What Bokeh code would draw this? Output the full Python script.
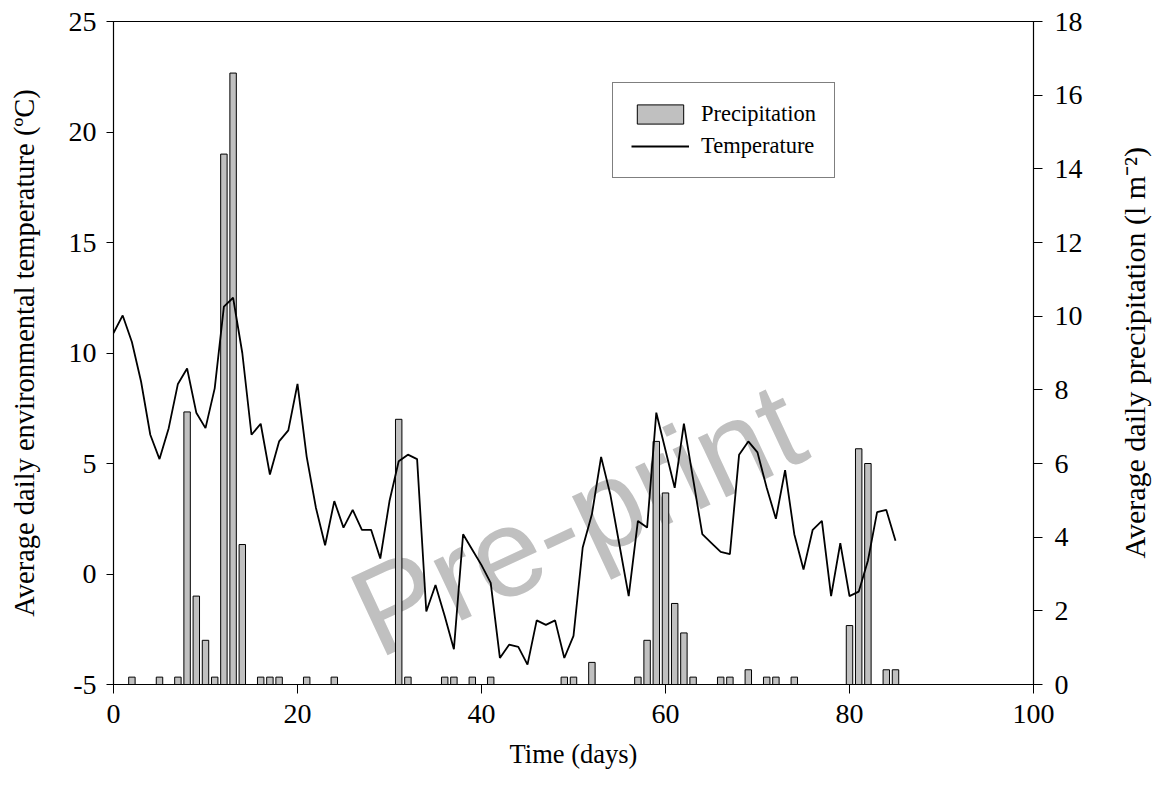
from bokeh.plotting import figure
from bokeh.layouts import row
from bokeh.models import (Range1d, LinearAxis, FixedTicker, Legend, LegendItem,
                          Label, ColumnDataSource)
from bokeh.embed import file_html
from bokeh.resources import INLINE

# ---- data ----
temp_days = list(range(0, 86))
temperature = [10.9, 11.7, 10.5, 8.7, 6.3, 5.2, 6.6, 8.6, 9.3, 7.3,
               6.6, 8.4, 12.1, 12.5, 10.0, 6.3, 6.8, 4.5, 6.0, 6.5,
               8.6, 5.3, 3.0, 1.3, 3.3, 2.1, 2.9, 2.0, 2.0, 0.7,
               3.3, 5.1, 5.4, 5.2, -1.7, -0.5, -1.9, -3.4, 1.8, 1.1,
               0.4, -0.4, -3.8, -3.2, -3.3, -4.1, -2.1, -2.3, -2.1, -3.8,
               -2.8, 1.2, 2.7, 5.3, 3.6, 1.3, -1.0, 2.4, 2.1, 7.3,
               5.6, 3.9, 6.8, 4.3, 1.8, 1.4, 1.0, 0.9, 5.4, 6.0,
               5.5, 3.9, 2.5, 4.7, 1.8, 0.2, 2.0, 2.4, -1.0, 1.4,
               -1.0, -0.8, 0.6, 2.8, 2.9, 1.5]

precip_days = [2, 5, 7, 8, 9, 10, 11, 12, 13, 14, 16, 17, 18, 21, 24, 31, 32,
               36, 37, 39, 41, 49, 50, 52, 57, 58, 59, 60, 61, 62, 63, 66, 67,
               69, 71, 72, 74, 80, 81, 82, 84, 85]
precipitation = [0.2, 0.2, 0.2, 7.4, 2.4, 1.2, 0.2, 14.4, 16.6, 3.8, 0.2, 0.2,
                 0.2, 0.2, 0.2, 7.2, 0.2, 0.2, 0.2, 0.2, 0.2, 0.2, 0.2, 0.6,
                 0.2, 1.2, 6.6, 5.2, 2.2, 1.4, 0.2, 0.2, 0.2, 0.4, 0.2, 0.2,
                 0.2, 1.6, 6.4, 6.0, 0.4, 0.4]

x_ticks = [0, 20, 40, 60, 80, 100]
left_ticks = [-5, 0, 5, 10, 15, 20, 25]
right_ticks = [0, 2, 4, 6, 8, 10, 12, 14, 16, 18]

FONT = "Liberation Serif"
TICK_SIZE = "28px"

p = figure(width=1110, height=798, output_backend="svg", toolbar_location=None,
           x_range=Range1d(0, 100), y_range=Range1d(-5, 25),
           min_border_left=113, min_border_right=77, min_border_top=21,
           min_border_bottom=114)
p.extra_y_ranges = {"precip": Range1d(0, 18)}
p.xgrid.visible = False
p.ygrid.visible = False
p.outline_line_color = "black"
p.outline_line_width = 1.2
p.background_fill_color = "white"
p.border_fill_color = "white"

# watermark
wm = Label(x=50.4, y=2.5, text="Pre-print", angle=25, angle_units="deg",
           text_align="center", text_baseline="middle",
           text_font="Liberation Sans", text_font_size="125px",
           text_color="#c0c0c0", level="underlay")
p.add_layout(wm)

src_p = ColumnDataSource(dict(x=precip_days, top=precipitation))
bars = p.vbar(x="x", top="top", bottom=0, width=0.7, source=src_p,
              y_range_name="precip", fill_color="#c0c0c0",
              line_color="black", line_width=1)

src_t = ColumnDataSource(dict(x=temp_days, y=temperature))
line = p.line(x="x", y="y", source=src_t, line_color="black", line_width=1.8)

# axes
for ax in [p.xaxis[0], p.yaxis[0]]:
    ax.axis_label_text_font = FONT
    ax.axis_label_text_font_style = "normal"
    ax.major_label_text_font = FONT
    ax.major_label_text_font_size = TICK_SIZE
    ax.minor_tick_line_color = None
    ax.major_tick_in = 0
    ax.axis_line_color = "black"
    ax.major_tick_line_color = "black"
    ax.major_label_text_color = "black"
    ax.axis_label_text_color = "black"

p.xaxis[0].ticker = FixedTicker(ticks=x_ticks)
p.xaxis[0].axis_label = "Time (days)"
p.xaxis[0].axis_label_text_font_size = "26.5px"
p.xaxis[0].major_tick_out = 9
p.xaxis[0].major_label_standoff = 11
p.xaxis[0].axis_label_standoff = 13

p.yaxis[0].ticker = FixedTicker(ticks=left_ticks)
p.yaxis[0].axis_label = "Average daily environmental temperature (ºC)"
p.yaxis[0].axis_label_text_font_size = "28.5px"
p.yaxis[0].major_tick_out = 7
p.yaxis[0].major_label_standoff = 10
p.yaxis[0].axis_label_standoff = 26
p.yaxis[0].major_label_overrides = {-5: "-5"}

ry = LinearAxis(y_range_name="precip", ticker=FixedTicker(ticks=right_ticks))
ry.major_label_text_font = FONT
ry.major_label_text_font_size = TICK_SIZE
ry.minor_tick_line_color = None
ry.major_tick_in = 0
ry.major_tick_out = 9
ry.major_label_standoff = 12
ry.axis_line_color = "black"
ry.major_tick_line_color = "black"
ry.major_label_text_color = "black"
p.add_layout(ry, "right")

legend = Legend(items=[LegendItem(label="Precipitation", renderers=[bars]),
                       LegendItem(label="Temperature", renderers=[line])],
                location=(499, 506), orientation="vertical",
                label_text_font=FONT, label_text_font_size="22.5px",
                label_text_color="black",
                glyph_width=58, glyph_height=24, label_height=24,
                label_standoff=12, spacing=6, padding=18, margin=0,
                border_line_color="black", border_line_width=1.2,
                background_fill_color="white", background_fill_alpha=1.0)
p.add_layout(legend, "center")

# narrow strip holding the right axis title (reads bottom-to-top)
p2 = figure(width=53, height=798, output_backend="svg", toolbar_location=None,
            x_range=Range1d(0, 1), y_range=Range1d(0, 1),
            x_axis_location=None, y_axis_location=None,
            min_border_left=0, min_border_right=0, min_border_top=0,
            min_border_bottom=0)
p2.xgrid.visible = False
p2.ygrid.visible = False
p2.outline_line_color = None
p2.background_fill_color = "white"
p2.border_fill_color = "white"
p2.add_layout(Label(x=0.45, y=0.19,
                    text="Average daily precipitation (l m\u207b\u00b2)",
                    angle=90, angle_units="deg", text_align="left",
                    text_baseline="middle", text_font=FONT,
                    text_font_size="30px", text_color="black"))

layout = row(p, p2, spacing=0)
open("out.html", "w").write(file_html(layout, INLINE))
